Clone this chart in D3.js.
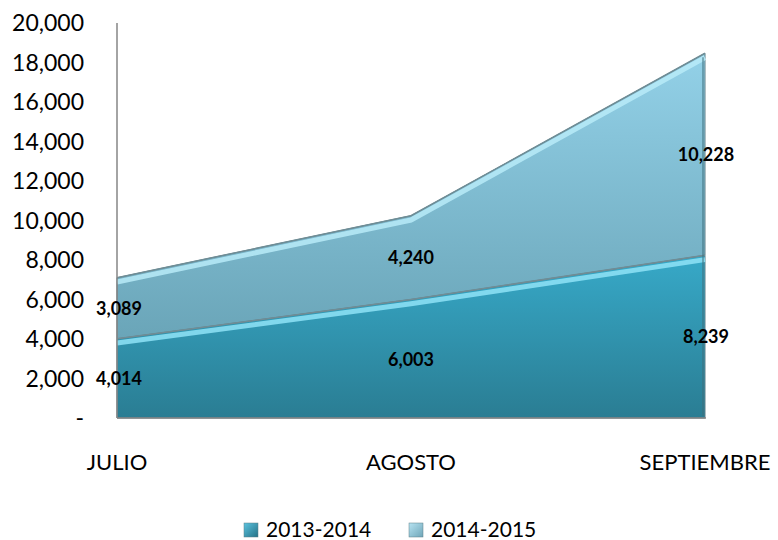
<!DOCTYPE html>
<html><head><meta charset="utf-8">
<script src="https://cdn.jsdelivr.net/npm/d3@7"></script>
<style>body{margin:0;background:#fff}svg{font-family:Lato,"Open Sans",sans-serif}</style>
</head><body><svg id="c" width="778" height="540"></svg>
<script>
const categories = ["JULIO", "AGOSTO", "SEPTIEMBRE"];
const seriesNames = ["2013-2014", "2014-2015"];
const s2013 = [4014, 6003, 8239];
const s2014 = [3089, 4240, 10228];
const yTicks = [0, 2000, 4000, 6000, 8000, 10000, 12000, 14000, 16000, 18000, 20000];

const svg = d3.select("#c");
const x = d3.scalePoint().domain(categories).range([117, 705]);
const y = d3.scaleLinear().domain([0, 20000]).range([418, 23]);

const rows = categories.map((c, i) => ({cat: c, a: s2013[i], b: s2014[i]}));
const stack = d3.stack().keys(["a", "b"])(rows);

const defs = svg.append("defs");
function grad(id, stops, diag) {
  const g = defs.append("linearGradient").attr("id", id).attr("x1", 0).attr("y1", 0).attr("x2", diag ? 1 : 0).attr("y2", 1);
  stops.forEach(s => g.append("stop").attr("offset", s[0]).attr("stop-color", s[1]));
}
grad("gA", [[0, "#37a9c8"], [1, "#2a7d93"]]);
grad("gB", [[0, "#93d1e8"], [1, "#6aa5b8"]]);
grad("lgA", [[0, "#5cc3df"], [1, "#247186"]], true);
grad("lgB", [[0, "#b7e3f2"], [1, "#6fa6b8"]], true);

const fills = ["url(#gA)", "url(#gB)"];
const highlights = ["#8fe3f7", "#b9ebf8"];

const area = d3.area().x((d, i) => x(categories[i])).y0(d => y(d[0])).y1(d => y(d[1]));
const line = d3.line().x((d, i) => x(categories[i])).y(d => y(d[1]));

stack.forEach((s, k) => {
  svg.append("path").attr("d", area(s)).attr("fill", fills[k]).attr("stroke", "#5d7f88").attr("stroke-width", 1);
});
// bevel highlights along the top edges
stack.forEach((s, k) => {
  svg.append("path").attr("d", line(s.map(d => [d[0], d[1] - 220]))).attr("fill", "none")
    .attr("stroke", highlights[k]).attr("stroke-width", 5).attr("opacity", 0.85);
  svg.append("path").attr("d", line(s)).attr("fill", "none").attr("stroke", "#6f8d96").attr("stroke-width", 1.5);
});
// right edge shading
svg.append("line").attr("x1", x(categories[2]) - 2).attr("x2", x(categories[2]) - 2)
  .attr("y1", y(s2013[2] + s2014[2]) + 4).attr("y2", y(0) - 2).attr("stroke", "#3f6f7c").attr("stroke-width", 2).attr("opacity", 0.5);

// axes
svg.append("line").attr("x1", 117).attr("x2", 117).attr("y1", y(20000)).attr("y2", y(0)).attr("stroke", "#868686").attr("stroke-width", 1.5);
svg.append("line").attr("x1", 117).attr("x2", 706).attr("y1", y(0)).attr("y2", y(0)).attr("stroke", "#868686").attr("stroke-width", 1.5);

svg.append("g").selectAll("text").data(yTicks).join("text")
  .attr("x", 84).attr("y", d => y(d)).attr("dy", "0.36em").attr("text-anchor", "end")
  .attr("font-size", 23).attr("fill", "#000").text(d => d === 0 ? "-" : d3.format(",")(d));

svg.append("g").selectAll("text").data(categories).join("text")
  .attr("x", d => x(d)).attr("y", 470).attr("text-anchor", "middle")
  .attr("font-size", 22).attr("fill", "#000").text(d => d);

// data labels
stack.forEach((s, k) => {
  svg.append("g").selectAll("text").data(s).join("text")
    .attr("x", (d, i) => x(categories[i]) + (i === 0 ? 2 : i === 2 ? 1 : 0))
    .attr("y", d => y((d[0] + d[1]) / 2)).attr("dy", "0.38em").attr("text-anchor", "middle")
    .attr("font-size", 18).attr("font-weight", "bold").attr("fill", "#000")
    .text(d => d3.format(",")(d[1] - d[0]));
});

// legend
const legX = [244, 409];
const lfill = ["url(#lgA)", "url(#lgB)"];
seriesNames.forEach((n, i) => {
  svg.append("rect").attr("x", legX[i]).attr("y", 523).attr("width", 14).attr("height", 14)
    .attr("fill", lfill[i]).attr("stroke", "#5d7f88").attr("stroke-width", 0.5);
  svg.append("text").attr("x", legX[i] + 22).attr("y", 537)
    .attr("font-size", 21).attr("fill", "#000").text(n);
});
</script></body></html>
